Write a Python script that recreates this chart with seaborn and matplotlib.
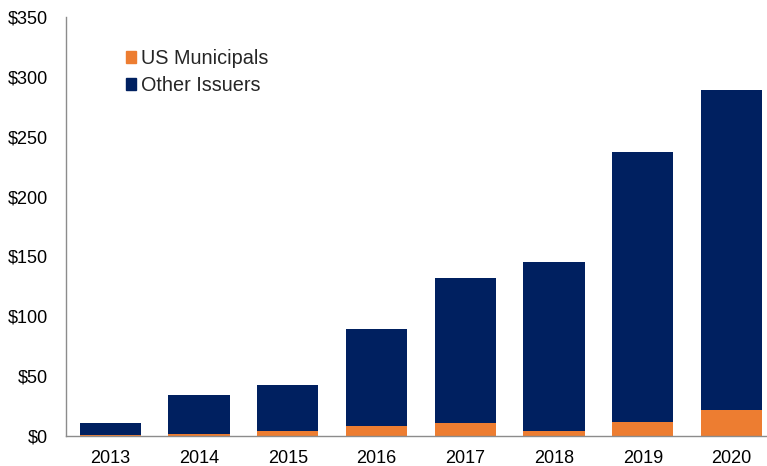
import matplotlib
matplotlib.use("Agg")
import matplotlib.pyplot as plt
import seaborn as sns
import pandas as pd
import numpy as np
from matplotlib.patches import Patch

years = ["2013", "2014", "2015", "2016", "2017", "2018", "2019", "2020"]
us_municipals = [0.5, 2, 4, 8, 10.5, 4, 11.5, 22]
other_issuers = [10.5, 32, 39, 81, 121.5, 141, 226, 267]
yticks = [0, 50, 100, 150, 200, 250, 300, 350]

orange = "#ED7D31"
navy = "#002060"

sns.set_theme(style="white")
plt.rcParams['font.family'] = ['Liberation Sans', 'DejaVu Sans']

df = pd.DataFrame({
    "year": years,
    "muni": us_municipals,
    "other": other_issuers,
})
df["total"] = df["muni"] + df["other"]

fig = plt.figure(figsize=(7.67, 4.66), dpi=100)
ax = fig.add_axes([66/767, 30/466, (767-66)/767, (436-17)/466])

sns.barplot(data=df, x="year", y="total", color=navy, saturation=1, width=0.69,
            linewidth=0, ax=ax)
sns.barplot(data=df, x="year", y="muni", color=orange, saturation=1, width=0.69,
            linewidth=0, ax=ax)

ax.set_ylim(0, 350)
ax.set_xlim(-0.5, 7.4)
ax.set_yticks(yticks)
ax.set_yticklabels([f"${v}" for v in yticks])
ax.set_xlabel("")
ax.set_ylabel("")
ax.tick_params(axis="both", labelsize=13, colors="#000000", length=0)
ax.tick_params(axis="y", pad=13)
ax.tick_params(axis="x", pad=10)
for s in ["top", "right"]:
    ax.spines[s].set_visible(False)
for s in ["left", "bottom"]:
    ax.spines[s].set_color("#8c8c8c")
    ax.spines[s].set_linewidth(1.0)

handles = [Patch(facecolor=orange, edgecolor=orange), Patch(facecolor=navy, edgecolor=navy)]
ax.legend(handles, ["US Municipals", "Other Issuers"], loc="upper left",
          bbox_to_anchor=(0.06, 0.966), frameon=False, fontsize=14.3,
          handlelength=0.52, handleheight=0.52, handletextpad=0.26, labelspacing=0.4)

fig.savefig("out.png", dpi=100)
